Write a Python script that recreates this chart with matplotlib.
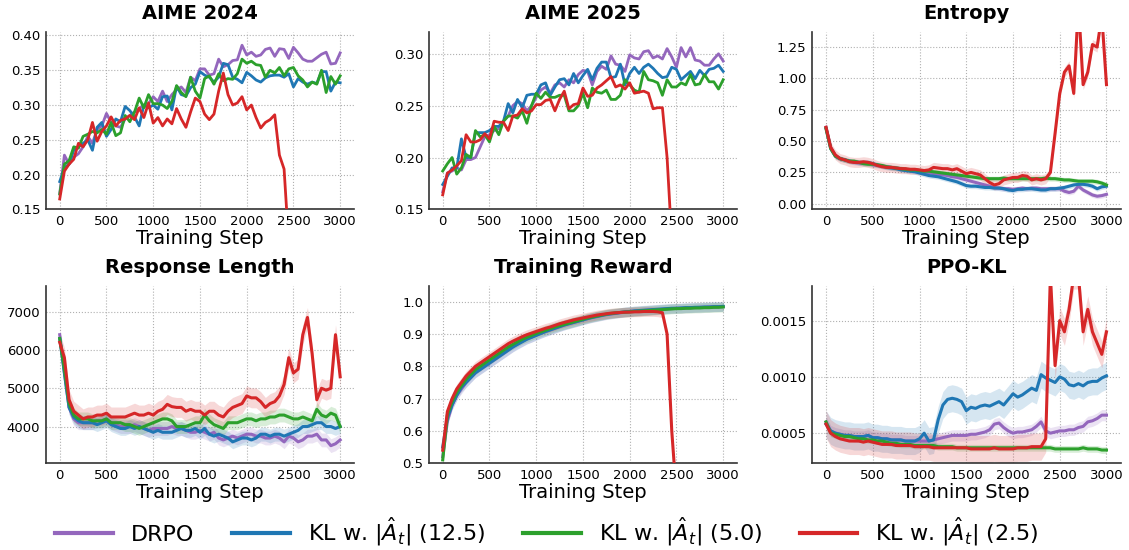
import numpy as np
import matplotlib
matplotlib.use("Agg")
import matplotlib.pyplot as plt
from matplotlib.ticker import FormatStrFormatter

# run names and colours
labels = ['DRPO', r'KL w. $|\hat{A}_t|$ (12.5)', r'KL w. $|\hat{A}_t|$ (5.0)', r'KL w. $|\hat{A}_t|$ (2.5)']
colors = ['#9467bd', '#1f77b4', '#2ca02c', '#d62728']
STEP = 50  # logging interval of the curves below

# AIME 2024 accuracy
aime24_drpo = [0.173, 0.228, 0.215, 0.225, 0.23, 0.24, 0.255, 0.245, 0.265, 0.27,
               0.288, 0.275, 0.27, 0.268, 0.28, 0.285, 0.29, 0.295, 0.30, 0.302,
               0.312, 0.305, 0.32, 0.305, 0.315, 0.322, 0.326, 0.318, 0.34, 0.335,
               0.352, 0.352, 0.343, 0.345, 0.366, 0.355, 0.358, 0.364, 0.365, 0.386,
               0.372, 0.376, 0.37, 0.372, 0.38, 0.382, 0.37, 0.381, 0.38, 0.367,
               0.383, 0.375, 0.366, 0.363, 0.363, 0.368, 0.373, 0.376, 0.359, 0.36,
               0.375]
aime24_kl125 = [0.19, 0.21, 0.215, 0.235, 0.24, 0.245, 0.25, 0.235, 0.268, 0.275,
                0.255, 0.265, 0.28, 0.276, 0.298, 0.292, 0.283, 0.27, 0.30, 0.296,
                0.30, 0.294, 0.312, 0.313, 0.293, 0.327, 0.315, 0.313, 0.325, 0.33,
                0.348, 0.343, 0.34, 0.333, 0.34, 0.36, 0.358, 0.34, 0.337, 0.332,
                0.347, 0.342, 0.336, 0.333, 0.339, 0.342, 0.343, 0.343, 0.34, 0.345,
                0.326, 0.338, 0.333, 0.33, 0.333, 0.331, 0.348, 0.348, 0.32, 0.333,
                0.332]
aime24_kl50 = [0.172, 0.215, 0.22, 0.24, 0.238, 0.255, 0.258, 0.262, 0.26, 0.265,
               0.258, 0.275, 0.256, 0.26, 0.285, 0.276, 0.29, 0.31, 0.296, 0.315,
               0.302, 0.302, 0.30, 0.295, 0.305, 0.328, 0.318, 0.312, 0.34, 0.32,
               0.31, 0.338, 0.342, 0.33, 0.345, 0.335, 0.338, 0.337, 0.345, 0.366,
               0.36, 0.363, 0.358, 0.357, 0.34, 0.35, 0.346, 0.354, 0.342, 0.352,
               0.354, 0.342, 0.336, 0.326, 0.333, 0.33, 0.35, 0.318, 0.341, 0.33,
               0.342]
aime24_kl25 = [0.165, 0.205, 0.215, 0.222, 0.245, 0.24, 0.25, 0.275, 0.248, 0.262,
               0.27, 0.283, 0.27, 0.278, 0.28, 0.285, 0.279, 0.296, 0.282, 0.303,
               0.274, 0.282, 0.27, 0.28, 0.273, 0.295, 0.28, 0.268, 0.29, 0.31,
               0.305, 0.287, 0.279, 0.287, 0.32, 0.346, 0.315, 0.30, 0.303, 0.312,
               0.293, 0.30, 0.282, 0.267, 0.275, 0.279, 0.286, 0.228, 0.208, 0.10]

# AIME 2025 accuracy
aime25_drpo = [0.167, 0.185, 0.187, 0.19, 0.188, 0.198, 0.198, 0.20, 0.21, 0.22,
               0.222, 0.226, 0.228, 0.235, 0.24, 0.25, 0.254, 0.252, 0.245, 0.25,
               0.258, 0.265, 0.268, 0.262, 0.27, 0.272, 0.268, 0.275, 0.272, 0.28,
               0.284, 0.283, 0.27, 0.283, 0.288, 0.285, 0.298, 0.29, 0.289, 0.283,
               0.299, 0.296, 0.295, 0.302, 0.303, 0.296, 0.298, 0.295, 0.305, 0.297,
               0.287, 0.306, 0.297, 0.306, 0.294, 0.293, 0.289, 0.289, 0.295, 0.30,
               0.293]
aime25_kl125 = [0.174, 0.182, 0.19, 0.19, 0.218, 0.20, 0.20, 0.224, 0.224, 0.224,
                0.226, 0.23, 0.23, 0.235, 0.252, 0.243, 0.256, 0.248, 0.26, 0.261,
                0.261, 0.27, 0.272, 0.26, 0.268, 0.275, 0.276, 0.27, 0.281, 0.272,
                0.279, 0.285, 0.275, 0.286, 0.292, 0.292, 0.277, 0.278, 0.29, 0.27,
                0.281, 0.287, 0.281, 0.287, 0.29, 0.286, 0.281, 0.277, 0.278, 0.287,
                0.285, 0.275, 0.279, 0.283, 0.276, 0.284, 0.279, 0.285, 0.286, 0.289,
                0.283]
aime25_kl50 = [0.187, 0.194, 0.20, 0.184, 0.19, 0.203, 0.20, 0.226, 0.22, 0.222,
               0.215, 0.23, 0.222, 0.235, 0.24, 0.24, 0.238, 0.245, 0.233, 0.25,
               0.262, 0.257, 0.263, 0.258, 0.258, 0.26, 0.26, 0.245, 0.245, 0.25,
               0.262, 0.248, 0.267, 0.263, 0.262, 0.265, 0.256, 0.256, 0.26, 0.275,
               0.27, 0.265, 0.263, 0.283, 0.275, 0.274, 0.272, 0.26, 0.275, 0.268,
               0.268, 0.272, 0.27, 0.28, 0.27, 0.271, 0.28, 0.273, 0.273, 0.266,
               0.275]
aime25_kl25 = [0.164, 0.185, 0.188, 0.192, 0.197, 0.222, 0.215, 0.215, 0.217, 0.223,
               0.218, 0.235, 0.234, 0.234, 0.226, 0.24, 0.241, 0.247, 0.243, 0.245,
               0.251, 0.251, 0.255, 0.256, 0.245, 0.256, 0.264, 0.247, 0.251, 0.252,
               0.267, 0.259, 0.26, 0.267, 0.27, 0.274, 0.278, 0.268, 0.27, 0.266,
               0.272, 0.262, 0.263, 0.264, 0.262, 0.247, 0.248, 0.248, 0.20, 0.12]

# entropy
ent_drpo = [0.61, 0.45, 0.38, 0.36, 0.35, 0.34, 0.33, 0.325, 0.32, 0.32,
            0.31, 0.305, 0.30, 0.295, 0.29, 0.285, 0.28, 0.27, 0.265, 0.26,
            0.255, 0.25, 0.25, 0.24, 0.235, 0.23, 0.225, 0.215, 0.21, 0.20,
            0.19, 0.18, 0.17, 0.16, 0.15, 0.14, 0.13, 0.125, 0.12, 0.12,
            0.115, 0.12, 0.125, 0.12, 0.125, 0.125, 0.12, 0.12, 0.12, 0.12,
            0.12, 0.10, 0.09, 0.10, 0.14, 0.11, 0.09, 0.07, 0.06, 0.065,
            0.075]
ent_kl125 = [0.60, 0.44, 0.38, 0.36, 0.35, 0.34, 0.335, 0.33, 0.33, 0.33,
             0.32, 0.31, 0.30, 0.29, 0.285, 0.28, 0.27, 0.265, 0.26, 0.255,
             0.245, 0.235, 0.225, 0.22, 0.215, 0.205, 0.195, 0.185, 0.175, 0.16,
             0.145, 0.14, 0.14, 0.135, 0.13, 0.13, 0.125, 0.125, 0.12, 0.11,
             0.105, 0.115, 0.115, 0.12, 0.12, 0.115, 0.11, 0.11, 0.12, 0.12,
             0.125, 0.13, 0.14, 0.15, 0.155, 0.155, 0.15, 0.14, 0.12, 0.135,
             0.14]
ent_kl50 = [0.60, 0.44, 0.38, 0.36, 0.35, 0.34, 0.34, 0.33, 0.32, 0.315,
            0.315, 0.31, 0.305, 0.295, 0.29, 0.285, 0.28, 0.275, 0.27, 0.27,
            0.265, 0.26, 0.26, 0.255, 0.25, 0.245, 0.24, 0.235, 0.23, 0.225,
            0.22, 0.215, 0.21, 0.205, 0.20, 0.20, 0.20, 0.20, 0.205, 0.20,
            0.20, 0.20, 0.20, 0.20, 0.20, 0.20, 0.20, 0.205, 0.20, 0.20,
            0.195, 0.19, 0.19, 0.185, 0.18, 0.18, 0.18, 0.18, 0.175, 0.165,
            0.15]
ent_kl25 = [0.61, 0.45, 0.39, 0.36, 0.35, 0.335, 0.33, 0.33, 0.335, 0.33,
            0.32, 0.305, 0.295, 0.29, 0.29, 0.285, 0.28, 0.28, 0.275, 0.275,
            0.27, 0.265, 0.27, 0.29, 0.285, 0.28, 0.28, 0.27, 0.28, 0.26,
            0.24, 0.25, 0.24, 0.23, 0.20, 0.17, 0.15, 0.16, 0.19, 0.20,
            0.21, 0.21, 0.225, 0.22, 0.19, 0.20, 0.19, 0.20, 0.25, 0.56,
            0.88, 1.05, 1.10, 0.88, 1.60, 0.95, 1.05, 1.27, 1.25, 1.50,
            0.95]

# response length
len_drpo = [6400, 5400, 4500, 4200, 4100, 4100, 4100, 4100, 4150, 4150,
            4200, 4100, 4050, 4000, 4000, 4000, 4050, 4000, 3950, 3900,
            3950, 3950, 3950, 3950, 4000, 3950, 3950, 3900, 3850, 3850,
            3900, 3850, 3800, 3850, 3700, 3650, 3700, 3750, 3700, 3750,
            3800, 3800, 3750, 3750, 3700, 3700, 3750, 3700, 3600, 3750,
            3700, 3600, 3650, 3750, 3750, 3800, 3650, 3650, 3500, 3550,
            3650]
len_kl125 = [6300, 5400, 4500, 4250, 4150, 4100, 4100, 4100, 4050, 4100,
             4150, 4050, 4000, 3950, 3950, 4000, 3950, 4000, 3950, 3900,
             3850, 3900, 3850, 3850, 3850, 3900, 3950, 3900, 3900, 3950,
             3850, 3950, 3800, 3750, 3800, 3750, 3700, 3600, 3650, 3700,
             3700, 3650, 3700, 3800, 3800, 3750, 3800, 3800, 3750, 3800,
             3850, 3900, 4000, 4000, 4050, 4100, 4100, 4000, 4000, 3950,
             4000]
len_kl50 = [6300, 5500, 4600, 4300, 4200, 4200, 4200, 4150, 4150, 4150,
            4200, 4100, 4100, 4100, 4050, 4050, 4000, 3950, 4000, 4050,
            4100, 4150, 4200, 4200, 4150, 4000, 4000, 4000, 4050, 4100,
            4100, 4300, 4150, 4050, 4000, 3950, 4100, 4100, 4100, 4150,
            4200, 4200, 4150, 4200, 4200, 4250, 4250, 4300, 4300, 4250,
            4200, 4200, 4250, 4200, 4150, 4450, 4300, 4250, 4350, 4300,
            4000]
len_kl25 = [6200, 5800, 4700, 4400, 4300, 4200, 4250, 4250, 4300, 4300,
            4350, 4250, 4250, 4250, 4250, 4300, 4350, 4300, 4300, 4350,
            4300, 4400, 4450, 4580, 4520, 4500, 4500, 4400, 4450, 4400,
            4400, 4300, 4400, 4400, 4300, 4250, 4400, 4500, 4550, 4600,
            4800, 4750, 4750, 4650, 4500, 4600, 4650, 4800, 5100, 5800,
            5400, 5500, 6400, 6850, 5900, 4700, 5000, 4950, 5000, 6400,
            5300]

# training reward
rew_drpo = [0.52, 0.63, 0.68, 0.71, 0.73, 0.75, 0.765, 0.78, 0.79, 0.80,
            0.81, 0.82, 0.83, 0.84, 0.85, 0.86, 0.87, 0.877, 0.885, 0.89,
            0.897, 0.903, 0.908, 0.913, 0.918, 0.923, 0.928, 0.932, 0.936, 0.94,
            0.944, 0.948, 0.951, 0.954, 0.957, 0.96, 0.962, 0.964, 0.966, 0.968,
            0.97, 0.971, 0.972, 0.973, 0.974, 0.975, 0.976, 0.977, 0.978, 0.979,
            0.98, 0.98, 0.981, 0.982, 0.982, 0.983, 0.983, 0.984, 0.984, 0.985,
            0.985]
rew_kl125 = [0.55, 0.64, 0.68, 0.71, 0.735, 0.75, 0.765, 0.78, 0.79, 0.80,
             0.81, 0.82, 0.83, 0.84, 0.85, 0.86, 0.868, 0.876, 0.884, 0.89,
             0.896, 0.902, 0.908, 0.913, 0.918, 0.923, 0.928, 0.932, 0.936, 0.94,
             0.944, 0.948, 0.952, 0.955, 0.958, 0.961, 0.963, 0.965, 0.967, 0.969,
             0.97, 0.972, 0.973, 0.974, 0.975, 0.976, 0.977, 0.978, 0.979, 0.98,
             0.98, 0.981, 0.982, 0.982, 0.983, 0.983, 0.984, 0.984, 0.985, 0.985,
             0.986]
rew_kl50 = [0.51, 0.65, 0.69, 0.72, 0.74, 0.76, 0.775, 0.79, 0.80, 0.81,
            0.82, 0.83, 0.84, 0.85, 0.86, 0.868, 0.876, 0.884, 0.89, 0.896,
            0.902, 0.907, 0.912, 0.917, 0.922, 0.926, 0.93, 0.934, 0.938, 0.942,
            0.946, 0.95, 0.953, 0.956, 0.959, 0.962, 0.964, 0.966, 0.967, 0.968,
            0.969, 0.97, 0.971, 0.972, 0.973, 0.974, 0.975, 0.976, 0.977, 0.978,
            0.979, 0.979, 0.98, 0.98, 0.981, 0.981, 0.982, 0.982, 0.983, 0.983,
            0.984]
rew_kl25 = [0.54, 0.66, 0.70, 0.73, 0.75, 0.77, 0.785, 0.80, 0.81, 0.82,
            0.83, 0.84, 0.85, 0.86, 0.87, 0.878, 0.885, 0.892, 0.898, 0.903,
            0.908, 0.913, 0.918, 0.922, 0.927, 0.932, 0.936, 0.94, 0.944, 0.947,
            0.95, 0.953, 0.956, 0.959, 0.961, 0.963, 0.965, 0.966, 0.967, 0.968,
            0.968, 0.969, 0.969, 0.97, 0.97, 0.97, 0.969, 0.966, 0.90, 0.60,
            0.40]

# PPO-KL
kl_drpo = [0.00060, 0.00052, 0.00050, 0.00049, 0.00048, 0.00048, 0.00047, 0.00047, 0.00047, 0.00048,
           0.00046, 0.00046, 0.00045, 0.00045, 0.00044, 0.00044, 0.00044, 0.00043, 0.00043, 0.00043,
           0.00043, 0.00043, 0.00043, 0.00044, 0.00045, 0.00046, 0.00047, 0.00048, 0.00048, 0.00048,
           0.00048, 0.00049, 0.00049, 0.00050, 0.00051, 0.00053, 0.00058, 0.00059, 0.00055, 0.00052,
           0.00050, 0.00051, 0.00051, 0.00052, 0.00053, 0.00056, 0.00060, 0.00052, 0.00050, 0.00051,
           0.00052, 0.00052, 0.00053, 0.00053, 0.00055, 0.00056, 0.00060, 0.00061, 0.00063, 0.00066,
           0.00066]
kl_kl125 = [0.00058, 0.00052, 0.00050, 0.00049, 0.00048, 0.00048, 0.00047, 0.00047, 0.00047, 0.00048,
            0.00046, 0.00046, 0.00045, 0.00045, 0.00044, 0.00044, 0.00044, 0.00043, 0.00043, 0.00043,
            0.00045, 0.00050, 0.00043, 0.00044, 0.00062, 0.00075, 0.00080, 0.00081, 0.00080, 0.00078,
            0.00070, 0.00073, 0.00072, 0.00074, 0.00075, 0.00074, 0.00076, 0.00078, 0.00075, 0.00080,
            0.00085, 0.00082, 0.00084, 0.00087, 0.00090, 0.00088, 0.00102, 0.00099, 0.00097, 0.00095,
            0.00100, 0.00098, 0.00093, 0.00092, 0.00094, 0.00092, 0.00095, 0.00096, 0.00096, 0.00099,
            0.00101]
kl_kl50 = [0.00060, 0.00050, 0.00049, 0.00048, 0.00047, 0.00047, 0.00046, 0.00045, 0.00045, 0.00044,
           0.00044, 0.00043, 0.00043, 0.00042, 0.00041, 0.00041, 0.00040, 0.00040, 0.00040, 0.00039,
           0.00039, 0.00039, 0.00039, 0.00039, 0.00038, 0.00038, 0.00038, 0.00038, 0.00037, 0.00037,
           0.00037, 0.00037, 0.00037, 0.00037, 0.00037, 0.00037, 0.00037, 0.00037, 0.00037, 0.00037,
           0.00037, 0.00037, 0.00037, 0.00037, 0.00037, 0.00037, 0.00037, 0.00037, 0.00037, 0.00036,
           0.00036, 0.00036, 0.00036, 0.00036, 0.00036, 0.00037, 0.00036, 0.00036, 0.00036, 0.00035,
           0.00035]
kl_kl25 = [0.00058, 0.00050, 0.00047, 0.00045, 0.00044, 0.00043, 0.00043, 0.00043, 0.00042, 0.00043,
           0.00042, 0.00041, 0.00040, 0.00040, 0.00040, 0.00039, 0.00039, 0.00039, 0.00039, 0.00038,
           0.00038, 0.00038, 0.00038, 0.00037, 0.00037, 0.00037, 0.00037, 0.00037, 0.00037, 0.00037,
           0.00037, 0.00036, 0.00036, 0.00036, 0.00036, 0.00036, 0.00037, 0.00036, 0.00036, 0.00036,
           0.00036, 0.00037, 0.00037, 0.00037, 0.00038, 0.00038, 0.00038, 0.00045, 0.00190, 0.00110,
           0.00150, 0.00140, 0.00160, 0.00190, 0.00190, 0.00140, 0.00160, 0.00140, 0.00130, 0.00120,
           0.00140]

# half-width of the light raw-data band for each run
ent_band = [0.02, 0.02, 0.02, 0.04]
len_band = [180, 180, 180, 260]
rew_band = [0.015, 0.015, 0.015, 0.015]
kl_band = [0.00005, 0.00012, 0.00003, 0.00012]

titles = ['AIME 2024', 'AIME 2025', 'Entropy', 'Response Length', 'Training Reward', 'PPO-KL']
panels = [
    ([aime24_drpo, aime24_kl125, aime24_kl50, aime24_kl25], None, (0.15, 0.405), [0.15, 0.20, 0.25, 0.30, 0.35, 0.40], '%.2f'),
    ([aime25_drpo, aime25_kl125, aime25_kl50, aime25_kl25], None, (0.15, 0.321), [0.15, 0.20, 0.25, 0.30], '%.2f'),
    ([ent_drpo, ent_kl125, ent_kl50, ent_kl25], ent_band, (-0.045, 1.37), [0.0, 0.25, 0.5, 0.75, 1.0, 1.25], '%.2f'),
    ([len_drpo, len_kl125, len_kl50, len_kl25], len_band, (3045, 7680), [4000, 5000, 6000, 7000], '%d'),
    ([rew_drpo, rew_kl125, rew_kl50, rew_kl25], rew_band, (0.5, 1.05), [0.5, 0.6, 0.7, 0.8, 0.9, 1.0], '%.1f'),
    ([kl_drpo, kl_kl125, kl_kl50, kl_kl25], kl_band, (0.000234, 0.00181), [0.0005, 0.0010, 0.0015], '%.4f'),
]

W, H = 1129, 550
fig = plt.figure(figsize=(W / 100, H / 100), dpi=100)

col_left = [45.7, 428.7, 812.0]
row_top = [32.0, 285.7]
ax_w, ax_h = 308.5, 177.4

for k, (series, band, ylim, yticks, fmt) in enumerate(panels):
    r, c = divmod(k, 3)
    ax = fig.add_axes([col_left[c] / W, 1 - (row_top[r] + ax_h) / H, ax_w / W, ax_h / H])
    for i, y in enumerate(series):
        y = np.array(y)
        x = np.arange(len(y)) * STEP
        lw = 2.0 if band is None else 2.2
        if band is not None:
            ax.fill_between(x, y - band[i], y + band[i], color=colors[i], alpha=0.18, lw=0)
        ax.plot(x, y, color=colors[i], lw=lw, label=labels[i], zorder=3 + (i == 3))
    ax.set_xlim(-150, 3150)
    ax.set_ylim(*ylim)
    ax.set_xticks([0, 500, 1000, 1500, 2000, 2500, 3000])
    ax.set_yticks(yticks)
    ax.yaxis.set_major_formatter(FormatStrFormatter(fmt))
    ax.set_title(titles[k], fontsize=14, fontweight='bold', pad=9.5)
    ax.set_xlabel('Training Step', fontsize=14, labelpad=1)
    ax.tick_params(labelsize=9.5, length=0, pad=4)
    ax.grid(True, ls=':', color='#b0b0b0', lw=0.8)
    ax.set_axisbelow(True)
    for s in ['top', 'right']:
        ax.spines[s].set_visible(False)
    for s in ['left', 'bottom']:
        ax.spines[s].set_color('#333333')
        ax.spines[s].set_linewidth(1.2)
    if k == 0:
        handles, hl = ax.get_legend_handles_labels()

leg = fig.legend(handles, hl, loc='center', bbox_to_anchor=(0.4845, 0.033), ncol=4,
                 frameon=False, fontsize=16, handlelength=2.6, handletextpad=0.8,
                 columnspacing=1.7, borderpad=0.2)
for line in leg.get_lines():
    line.set_linewidth(3)

fig.savefig('out.png', dpi=100)
